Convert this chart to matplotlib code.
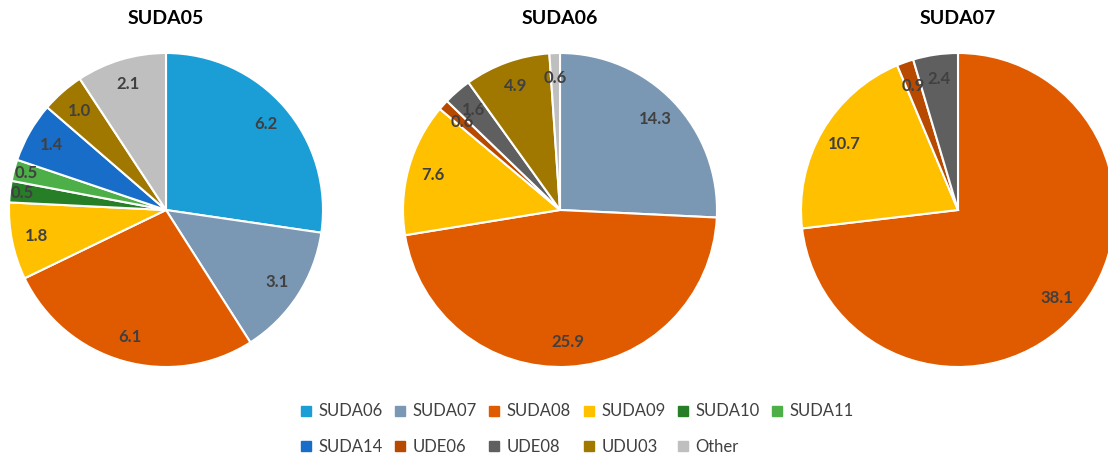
import matplotlib.pyplot as plt
from matplotlib.lines import Line2D
import numpy as np

plt.rcParams['font.family'] = ['Lato', 'DejaVu Sans']

# series names and colours (legend order)
series = ['SUDA06', 'SUDA07', 'SUDA08', 'SUDA09', 'SUDA10', 'SUDA11',
          'SUDA14', 'UDE06', 'UDE08', 'UDU03', 'Other']
colors = ['#1b9dd6', '#7a98b3', '#e05a00', '#ffc000', '#267f27', '#4caf47',
          '#176dc8', '#b84a00', '#5f5f5f', '#a07800', '#bfbfbf']

# data for each pie
titles = ['SUDA05', 'SUDA06', 'SUDA07']
names05 = ['SUDA06', 'SUDA07', 'SUDA08', 'SUDA09', 'SUDA10', 'SUDA11', 'SUDA14', 'UDU03', 'Other']
vals05 = [6.2, 3.1, 6.1, 1.8, 0.5, 0.5, 1.4, 1.0, 2.1]
names06 = ['SUDA07', 'SUDA08', 'SUDA09', 'UDE06', 'UDE08', 'UDU03', 'Other']
vals06 = [14.3, 25.9, 7.6, 0.6, 1.6, 4.9, 0.6]
names07 = ['SUDA08', 'SUDA09', 'UDE06', 'UDE08']
vals07 = [38.1, 10.7, 0.9, 2.4]

pies = [(names05, vals05), (names06, vals06), (names07, vals07)]
centers = [166, 560, 958]  # pixel x of pie centres

W, H = 1108, 457
fig = plt.figure(figsize=(W / 100, H / 100), dpi=100)
R = 157
cy = 210

cmap = dict(zip(series, colors))

for title, (names, vals), cx in zip(titles, pies, centers):
    ax = fig.add_axes([(cx - R) / W, (H - cy - R) / H, 2 * R / W, 2 * R / H])
    wedges, _ = ax.pie(vals, colors=[cmap[n] for n in names], startangle=90,
                       counterclock=False, radius=1,
                       wedgeprops=dict(edgecolor='white', linewidth=1.5))
    tot = sum(vals)
    for w, v in zip(wedges, vals):
        mid = np.deg2rad((w.theta1 + w.theta2) / 2)
        r = 0.92 if (v / tot < 0.03 and title == 'SUDA05') else 0.84
        ax.text(r * np.cos(mid), r * np.sin(mid), f'{v:.1f}', ha='center', va='center',
                fontsize=12, fontweight='bold', color='#404040')
    ax.set_xlim(-1, 1)
    ax.set_ylim(-1, 1)
    ax.set_aspect('equal')
    ax.axis('off')
    fig.text(cx / W, 1 - 18 / H, title, ha='center', va='center',
             fontsize=14, fontweight='bold', color='#000000')

# legend is filled column by column, so interleave to get row order
ncol = 6
order = [i + r * ncol for i in range(ncol) for r in range(2) if i + r * ncol < len(series)]
handles = [Line2D([], [], marker='s', linestyle='', markersize=7, color=colors[i]) for i in order]
labels = [series[i] for i in order]
fig.legend(handles, labels, loc='center', bbox_to_anchor=(577 / W, 1 - 429 / H),
           ncol=ncol, frameon=False, fontsize=12, handlelength=0.7, handletextpad=0.4,
           columnspacing=0.7, labelspacing=1.15, labelcolor='#404040')

fig.savefig('out.png', dpi=100)
